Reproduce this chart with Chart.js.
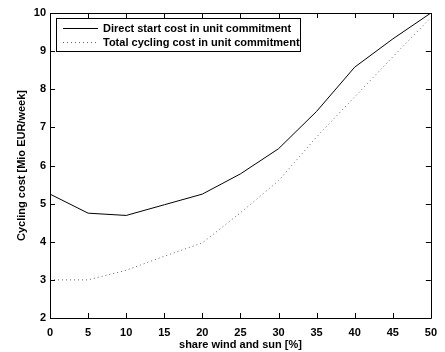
<!DOCTYPE html>
<html>
<head>
<meta charset="utf-8">
<script src="https://cdn.jsdelivr.net/npm/chart.js@4.4.1/dist/chart.umd.min.js"></script>
<style>
  html, body { margin: 0; padding: 0; background: #fff; }
  #wrap { width: 445px; height: 352px; position: relative; }
</style>
</head>
<body>
<div id="wrap"><canvas id="c" width="445" height="352"></canvas></div>
<script>
// Share of wind and sun in the system [%]
const shares = [0, 5, 10, 15, 20, 25, 30, 35, 40, 45, 50];
// Cycling cost [Mio EUR/week]
const directStartCost = [5.25, 4.75, 4.69, 4.97, 5.25, 5.78, 6.44, 7.42, 8.58, 9.32, 10.0];
const totalCyclingCost = [3.0, 3.0, 3.25, 3.62, 3.97, 4.76, 5.6, 6.75, 7.8, 8.85, 9.88];
const seriesNames = ['Direct start cost in unit commitment', 'Total cycling cost in unit commitment'];
const xTicks = [0, 5, 10, 15, 20, 25, 30, 35, 40, 45, 50];
const yTicks = [2, 3, 4, 5, 6, 7, 8, 9, 10];

const FONT = 'Liberation Sans, Arial, sans-serif';

// Box around the axes with inward tick marks on all four sides
const boxTicks = {
  id: 'boxTicks',
  afterDatasetsDraw(chart) {
    const { ctx, chartArea: a, scales: { x, y } } = chart;
    const len = 5;
    ctx.save();
    ctx.strokeStyle = '#000';
    ctx.lineWidth = 1;
    ctx.beginPath();
    ctx.rect(Math.round(a.left) + 0.5, Math.round(a.top) + 0.5,
             Math.round(a.right - a.left), Math.round(a.bottom - a.top));
    xTicks.forEach(v => {
      const px = Math.round(x.getPixelForValue(v)) + 0.5;
      ctx.moveTo(px, a.bottom); ctx.lineTo(px, a.bottom - len);
      ctx.moveTo(px, a.top); ctx.lineTo(px, a.top + len);
    });
    yTicks.forEach(v => {
      const py = Math.round(y.getPixelForValue(v)) + 0.5;
      ctx.moveTo(a.left, py); ctx.lineTo(a.left + len, py);
      ctx.moveTo(a.right, py); ctx.lineTo(a.right - len, py);
    });
    ctx.stroke();
    ctx.restore();
  }
};

// Boxed legend in the upper left corner of the axes
const boxLegend = {
  id: 'boxLegend',
  afterDraw(chart) {
    const { ctx, chartArea: a } = chart;
    const bx = a.left + 6, by = a.top + 5, bw = 244, bh = 33;
    ctx.save();
    ctx.fillStyle = '#fff';
    ctx.fillRect(bx, by, bw, bh);
    ctx.strokeStyle = '#000';
    ctx.lineWidth = 1;
    ctx.strokeRect(Math.round(bx) + 0.5, Math.round(by) + 0.5, bw, bh);
    ctx.font = 'bold 11px ' + FONT;
    ctx.textBaseline = 'middle';
    ctx.fillStyle = '#000';
    chart.data.datasets.forEach((ds, i) => {
      const ly = Math.round(by + 10 + i * 14) + 0.5;
      ctx.beginPath();
      ctx.strokeStyle = ds.borderColor;
      ctx.setLineDash(ds.borderDash || []);
      ctx.moveTo(bx + 7, ly);
      ctx.lineTo(bx + 42, ly);
      ctx.stroke();
      ctx.setLineDash([]);
      ctx.fillText(ds.label, bx + 47, ly);
    });
    ctx.restore();
  }
};

new Chart(document.getElementById('c'), {
  type: 'line',
  data: {
    datasets: [
      {
        label: seriesNames[0],
        data: shares.map((s, i) => ({ x: s, y: directStartCost[i] })),
        borderColor: '#000',
        borderWidth: 1,
        pointRadius: 0,
        tension: 0
      },
      {
        label: seriesNames[1],
        data: shares.map((s, i) => ({ x: s, y: totalCyclingCost[i] })),
        borderColor: '#666',
        borderWidth: 1,
        borderDash: [1, 3],
        pointRadius: 0,
        tension: 0
      }
    ]
  },
  plugins: [boxTicks, boxLegend],
  options: {
    responsive: false,
    animation: false,
    layout: { padding: { top: 13, right: 6, left: 0, bottom: 0 } },
    plugins: { legend: { display: false }, tooltip: { enabled: false } },
    scales: {
      x: {
        type: 'linear',
        min: 0, max: 50,
        afterBuildTicks: s => { s.ticks = xTicks.map(v => ({ value: v })); },
        afterFit: s => { s.height = 34; },
        grid: { display: false, drawTicks: false },
        border: { display: false },
        ticks: { color: '#000', padding: 8, maxRotation: 0, font: { family: FONT, size: 11, weight: 'bold' } },
        title: { display: true, text: 'share wind and sun [%]', color: '#000', padding: 0,
                 font: { family: FONT, size: 11, weight: 'bold' } }
      },
      y: {
        min: 2, max: 10,
        afterBuildTicks: s => { s.ticks = yTicks.map(v => ({ value: v })); },
        afterFit: s => { s.width = 50; },
        grid: { display: false, drawTicks: false },
        border: { display: false },
        ticks: { color: '#000', padding: 4, font: { family: FONT, size: 11, weight: 'bold' } },
        title: { display: true, text: 'Cycling cost [Mio EUR/week]', color: '#000',
                 padding: { top: 15, bottom: 0 },
                 font: { family: FONT, size: 11, weight: 'bold' } }
      }
    }
  }
});
</script>
</body>
</html>
